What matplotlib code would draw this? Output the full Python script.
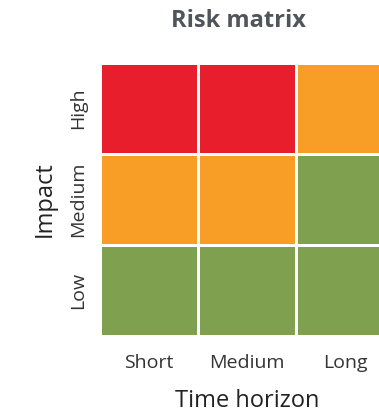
import matplotlib
matplotlib.use("Agg")
import matplotlib.pyplot as plt
from matplotlib.colors import ListedColormap
import numpy as np

plt.rcParams['font.family'] = ['Open Sans', 'DejaVu Sans']

time_labels = ["Short", "Medium", "Long"]
impact_labels = ["Low", "Medium", "High"]
# risk level per cell: 1 = low (green), 2 = medium (orange), 3 = high (red)
risk_low = [1, 1, 1]
risk_medium = [2, 2, 1]
risk_high = [3, 3, 2]

risk = np.array([risk_low, risk_medium, risk_high])
cmap = ListedColormap(["#7FA04E", "#F89D26", "#E81E2D"])

fig = plt.figure(figsize=(3.79, 4.17), dpi=100)
ax = fig.add_axes([100 / 379, 81 / 417, 294 / 379, 273 / 417])

ax.pcolormesh(risk, cmap=cmap, vmin=0.5, vmax=3.5, edgecolors="white", linewidth=2)
ax.set_xlim(0, 3)
ax.set_ylim(0, 3)

ax.set_xticks(np.arange(3) + 0.5)
ax.set_xticklabels(time_labels, fontsize=14, color="#333333")
ax.set_yticks(np.arange(3) + 0.5)
ax.set_yticklabels(impact_labels, fontsize=14, color="#333333", rotation=90, va="center")
ax.tick_params(axis="x", length=0, pad=13)
ax.tick_params(axis="y", length=0, pad=9)
for s in ax.spines.values():
    s.set_visible(False)

ax.set_xlabel("Time horizon", fontsize=17, color="#222222", labelpad=12)
ax.set_ylabel("Impact", fontsize=17, color="#222222", labelpad=9)
fig.text(238 / 379, 1 - 21 / 417, "Risk matrix", fontsize=17, fontweight="bold",
         color="#50555c", ha="center", va="center")

fig.savefig("out.png", dpi=100)
